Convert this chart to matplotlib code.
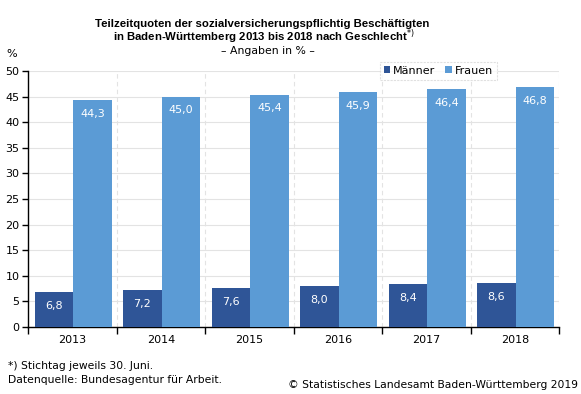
import matplotlib
matplotlib.use("Agg")
import matplotlib.pyplot as plt
import numpy as np

years = ["2013", "2014", "2015", "2016", "2017", "2018"]
maenner = [6.8, 7.2, 7.6, 8.0, 8.4, 8.6]
frauen = [44.3, 45.0, 45.4, 45.9, 46.4, 46.8]
series_names = ["Männer", "Frauen"]
yticks = [0, 5, 10, 15, 20, 25, 30, 35, 40, 45, 50]

c_m = "#2F5597"
c_f = "#5B9BD5"
plt.rcParams['font.family'] = ['DejaVu Sans']

fig = plt.figure(figsize=(5.81, 3.94), dpi=100)
W, H = 581, 394
ax = fig.add_axes([28 / W, 1 - 327 / H, (559 - 28) / W, (327 - 71) / H])

x = np.arange(len(years))
bw = 0.435
off = 0.01
b1 = ax.bar(x + off - bw / 2, maenner, bw, color=c_m, label=series_names[0], zorder=3)
b2 = ax.bar(x + off + bw / 2, frauen, bw, color=c_f, label=series_names[1], zorder=3)

def fmt(v):
    return f"{v:.1f}".replace(".", ",")

for bars, vals in ((b1, maenner), (b2, frauen)):
    for r, v in zip(bars, vals):
        ax.annotate(fmt(v), (r.get_x() + r.get_width() / 2, v), xytext=(0, -10),
                    textcoords="offset points", ha="center", va="center",
                    color="white", fontsize=8, zorder=4)

ax.set_xlim(-0.5, len(years) - 0.5)
ax.set_ylim(0, 50)
ax.set_yticks(yticks)
ax.set_yticklabels([str(t) for t in yticks], fontsize=8)
ax.set_xticks(x)
ax.set_xticklabels(years, fontsize=8)
ax.tick_params(axis="x", length=0, pad=6)
ax.tick_params(axis="y", length=4, width=1, pad=2)
ax.set_xticks(np.arange(len(years) + 1) - 0.5, minor=True)
ax.tick_params(axis="x", which="minor", length=5, width=1, direction="out")

ax.grid(axis="y", color="#E3E3E3", linewidth=0.8, zorder=0)
for xv in np.arange(1, len(years) + 1) - 0.5:
    ax.axvline(xv, color="#E3E3E3", linestyle=(0, (4, 3)), linewidth=0.8, zorder=0)

for s in ("top", "right"):
    ax.spines[s].set_visible(False)
ax.spines["left"].set_linewidth(1)
ax.spines["bottom"].set_linewidth(1)

leg = ax.legend(loc="upper right", bbox_to_anchor=(497 / W, 1 - 62 / H), bbox_transform=fig.transFigure,
                ncol=2, fontsize=8, frameon=True, handlelength=0.6, handleheight=0.6,
                handletextpad=0.25, columnspacing=0.9, borderpad=0.35, borderaxespad=0,
                fancybox=False)
leg.get_frame().set_edgecolor("#D9D9D9")
leg.get_frame().set_linestyle((0, (2, 1)))
leg.get_frame().set_linewidth(0.8)
leg.set_zorder(5)

fig.text(262 / W, 1 - 24 / H, "Teilzeitquoten der sozialversicherungspflichtig Beschäftigten",
         ha="center", va="center", fontsize=8.2, fontweight="bold", family=["Liberation Sans"])
fig.text(264 / W, 1 - 37 / H, "in Baden-Württemberg 2013 bis 2018 nach Geschlecht$^{*)}$",
         ha="center", va="center", fontsize=8.2, fontweight="bold", family=["Liberation Sans"])
fig.text(268 / W, 1 - 51 / H, "– Angaben in % –", ha="center", va="center", fontsize=7.8)
fig.text(6 / W, 1 - 54 / H, "%", ha="left", va="center", fontsize=8)

fig.text(8 / W, 1 - 366 / H, "*) Stichtag jeweils 30. Juni.", ha="left", va="center", fontsize=7.75)
fig.text(8 / W, 1 - 380 / H, "Datenquelle: Bundesagentur für Arbeit.", ha="left", va="center", fontsize=7.75)
fig.text(578 / W, 1 - 385 / H, "© Statistisches Landesamt Baden-Württemberg 2019", ha="right",
         va="center", fontsize=7.75)

fig.savefig("out.png", dpi=100)
